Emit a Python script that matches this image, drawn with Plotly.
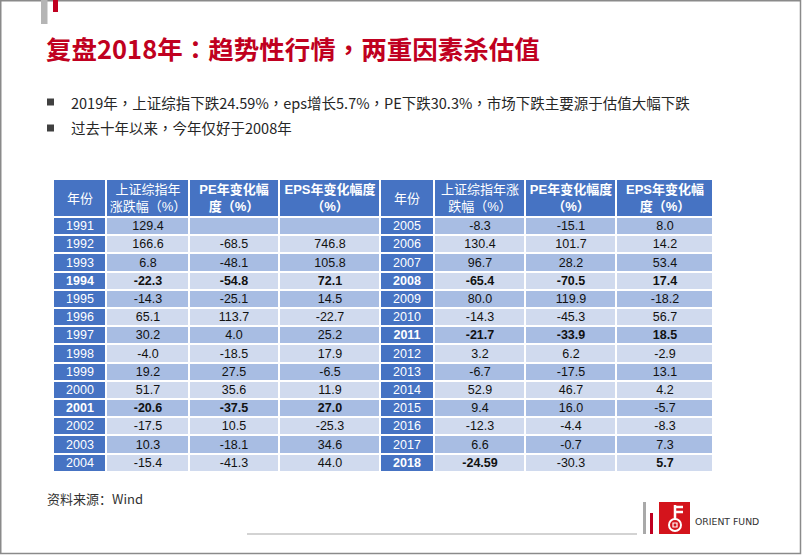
import plotly.graph_objects as go

W, H = 802, 555

# ---------------- data ----------------
years_left = [1991, 1992, 1993, 1994, 1995, 1996, 1997, 1998, 1999, 2000, 2001, 2002, 2003, 2004]
sh_left = [129.4, 166.6, 6.8, -22.3, -14.3, 65.1, 30.2, -4.0, 19.2, 51.7, -20.6, -17.5, 10.3, -15.4]
pe_left = [None, -68.5, -48.1, -54.8, -25.1, 113.7, 4.0, -18.5, 27.5, 35.6, -37.5, 10.5, -18.1, -41.3]
eps_left = [None, 746.8, 105.8, 72.1, 14.5, -22.7, 25.2, 17.9, -6.5, 11.9, 27.0, -25.3, 34.6, 44.0]

years_right = [2005, 2006, 2007, 2008, 2009, 2010, 2011, 2012, 2013, 2014, 2015, 2016, 2017, 2018]
sh_right = [-8.3, 130.4, 96.7, -65.4, 80.0, -14.3, -21.7, 3.2, -6.7, 52.9, 9.4, -12.3, 6.6, -24.59]
pe_right = [-15.1, 101.7, 28.2, -70.5, 119.9, -45.3, -33.9, 6.2, -17.5, 46.7, 16.0, -4.4, -0.7, -30.3]
eps_right = [8.0, 14.2, 53.4, 17.4, -18.2, 56.7, 18.5, -2.9, 13.1, 4.2, -5.7, -8.3, 7.3, 5.7]

bold_years = [1994, 2001, 2008, 2011, 2018]
regular_cells = [(2018, "pe")]  # cell in a bold row printed in regular weight

headers = ["年份", "上证综指年<br>涨跌幅（%）", "<b>PE年变化幅<br>度（%）</b>", "<b>EPS年变化幅度<br>（%）</b>",
           "年份", "上证综指年涨<br>跌幅（%）", "<b>PE年变化幅度<br>（%）</b>", "<b>EPS年变化幅<br>度（%）</b>"]

title = "复盘2018年：趋势性行情，两重因素杀估值"
bullets = ["2019年，上证综指下跌24.59%，eps增长5.7%，PE下跌30.3%，市场下跌主要源于估值大幅下跌",
           "过去十年以来，今年仅好于2008年"]
source = "资料来源：Wind"
logo_text = "ORIENT FUND"

# ---------------- styles ----------------
BLUE = "#4673C3"
MID = "#A8BDE3"
LIGHT = "#D0DAEE"
RED = "#C00020"
NUMFONT = "Liberation Sans, Arial, Noto Sans CJK SC, sans-serif"
CJK = "Noto Sans CJK TC, Noto Sans CJK SC, sans-serif"

col_widths = [53, 83, 90, 101, 54, 91, 91, 97]
header_h = 38
row_h = 18.2


def fmt(v):
    if v is None:
        return ""
    s = f"{v:.1f}"
    if abs(float(s) - v) > 1e-9:
        s = f"{v:.2f}"
    return s


def cell(y, v, key):
    t = fmt(v)
    if t and y in bold_years and (y, key) not in regular_cells:
        t = f"<b>{t}</b>"
    return t


def year(y):
    return f"<b>{y}</b>" if y in bold_years else str(y)


n = len(years_left)
ncol = len(col_widths)

# grid edges
x_edges = [0]
for w in col_widths:
    x_edges.append(x_edges[-1] + w)
y_edges = [0, header_h]
for i in range(n):
    y_edges.append(y_edges[-1] + row_h)

# codes: 0 = dark blue, 1 = mid band, 2 = light band
hz = [[0] * ncol] + [[None] * ncol for _ in range(n)]
ht = [headers] + [[""] * ncol for _ in range(n)]

yz = [[None] * ncol]
yt = [[""] * ncol]
dz = [[None] * ncol]
dt = [[""] * ncol]
for i in range(n):
    band = 1 if i % 2 == 0 else 2
    ly, ry = years_left[i], years_right[i]
    yz.append([0, None, None, None, 0, None, None, None])
    yt.append([year(ly), "", "", "", year(ry), "", "", ""])
    dz.append([None, band, band, band, None, band, band, band])
    dt.append(["", cell(ly, sh_left[i], "sh"), cell(ly, pe_left[i], "pe"), cell(ly, eps_left[i], "eps"),
               "", cell(ry, sh_right[i], "sh"), cell(ry, pe_right[i], "pe"), cell(ry, eps_right[i], "eps")])

cscale = [[0, BLUE], [0.5, MID], [1, LIGHT]]


def hm(z, text, size, color, family):
    return go.Heatmap(z=z, x=x_edges, y=y_edges, text=text, texttemplate="%{text}",
                      textfont=dict(family=family, size=size, color=color),
                      colorscale=cscale, zmin=0, zmax=2, showscale=False,
                      xgap=2, ygap=2, hoverinfo="skip")


fig = go.Figure([
    hm(hz, ht, 13, "white", "Liberation Sans, Noto Sans CJK SC, sans-serif"),
    hm(yz, yt, 12.5, "white", NUMFONT),
    hm(dz, dt, 12.5, "#111111", NUMFONT),
])


def px(x):
    return x / W


def py(y):
    return 1 - y / H


table_top, table_left, table_right = 179, 53, 713
table_bottom = table_top + y_edges[-1]
fig.update_xaxes(domain=[px(table_left), px(table_right)], range=[0, x_edges[-1]], visible=False, fixedrange=True)
fig.update_yaxes(domain=[py(table_bottom), py(table_top)], range=[y_edges[-1], 0], visible=False, fixedrange=True)

shapes = []
# slide frame
shapes.append(dict(type="rect", xref="paper", yref="paper", x0=px(0.75), x1=px(800.5), y0=py(553.5), y1=py(0.75),
                   line=dict(color="#8a8a8a", width=1.5)))
# top-left decoration
shapes.append(dict(type="rect", xref="paper", yref="paper", x0=px(41), x1=px(47.5), y0=py(24), y1=py(0),
                   fillcolor="#b5b5b5", line=dict(width=0)))
shapes.append(dict(type="rect", xref="paper", yref="paper", x0=px(53), x1=px(58), y0=py(12), y1=py(0),
                   fillcolor=RED, line=dict(width=0)))
# bullet squares
for yb in (102, 128):
    shapes.append(dict(type="rect", xref="paper", yref="paper", x0=px(47), x1=px(54), y0=py(yb + 3.5), y1=py(yb - 3.5),
                       fillcolor="#404040", line=dict(width=0)))
# footer line
shapes.append(dict(type="line", xref="paper", yref="paper", x0=px(247), x1=px(637), y0=py(534), y1=py(534),
                   line=dict(color="#c4c4c4", width=1.5)))
# logo
shapes.append(dict(type="rect", xref="paper", yref="paper", x0=px(643), x1=px(646), y0=py(534), y1=py(502),
                   fillcolor="#a9a9a9", line=dict(width=0)))
shapes.append(dict(type="rect", xref="paper", yref="paper", x0=px(650), x1=px(653), y0=py(534), y1=py(513),
                   fillcolor=RED, line=dict(width=0)))
shapes.append(dict(type="rect", xref="paper", yref="paper", x0=px(659), x1=px(690), y0=py(534), y1=py(502),
                   fillcolor="#d4141c", line=dict(width=0)))
shapes.append(dict(type="line", xref="paper", yref="paper", x0=px(675), x1=px(675), y0=py(505), y1=py(519),
                   line=dict(color="white", width=2.5)))
for yk in (507, 512):
    shapes.append(dict(type="line", xref="paper", yref="paper", x0=px(675), x1=px(683), y0=py(yk), y1=py(yk),
                       line=dict(color="white", width=2.5)))
shapes.append(dict(type="circle", xref="paper", yref="paper", x0=px(669), x1=px(681), y0=py(531), y1=py(519),
                   line=dict(color="white", width=2)))
shapes.append(dict(type="rect", xref="paper", yref="paper", x0=px(673), x1=px(677), y0=py(527), y1=py(523),
                   line=dict(color="white", width=1.2)))

annotations = [
    dict(text=f"<b>{title}</b>", x=px(44), y=py(47), xref="paper", yref="paper", xanchor="left", yanchor="middle",
         showarrow=False, font=dict(family=CJK, size=25.5, color=RED)),
    dict(text=bullets[0], x=px(69), y=py(102), xref="paper", yref="paper", xanchor="left", yanchor="middle",
         showarrow=False, font=dict(family=CJK, size=14.5, color="#262626")),
    dict(text=bullets[1], x=px(69), y=py(128), xref="paper", yref="paper", xanchor="left", yanchor="middle",
         showarrow=False, font=dict(family=CJK, size=14.5, color="#262626")),
    dict(text=source, x=px(45), y=py(498), xref="paper", yref="paper", xanchor="left", yanchor="middle",
         showarrow=False, font=dict(family="Noto Sans CJK SC, sans-serif", size=13, color="#333333")),
    dict(text=logo_text, x=px(693), y=py(521), xref="paper", yref="paper", xanchor="left", yanchor="middle",
         showarrow=False, font=dict(family="DejaVu Sans, sans-serif", size=9.3, color="#333333")),
]

fig.update_layout(width=W, height=H, margin=dict(l=0, r=0, t=0, b=0),
                  paper_bgcolor="white", plot_bgcolor="white",
                  shapes=shapes, annotations=annotations, showlegend=False)

fig.write_html("out.html", config={"displayModeBar": False},
               post_script="document.body.style.margin='0';document.body.style.padding='0';")
